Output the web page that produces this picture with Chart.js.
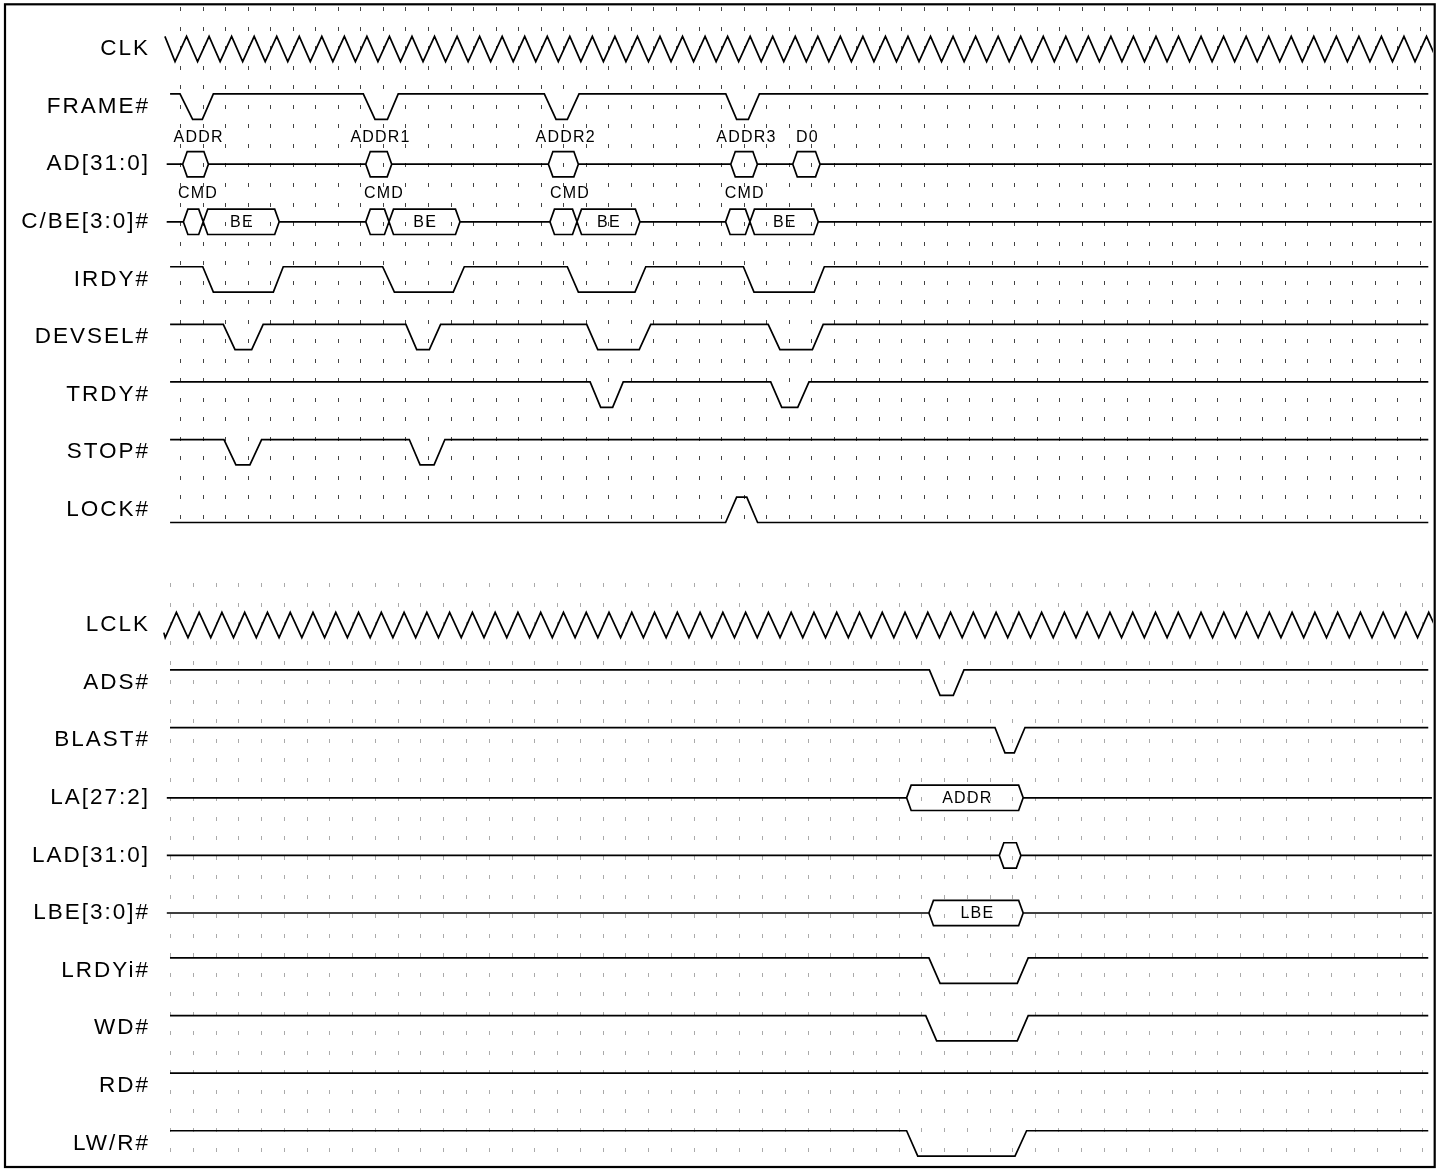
<!DOCTYPE html>
<html><head><meta charset="utf-8">
<script src="https://cdn.jsdelivr.net/npm/chart.js@4/dist/chart.umd.min.js"></script>
<style>html,body{margin:0;padding:0;background:#fff}#wrap{position:relative;width:1445px;height:1170px}</style>
</head><body><div id="wrap"><canvas id="c" width="1445" height="1170"></canvas></div>
<script>
// ---- signal names (y-axis rows) ----
const SIGNAL_NAMES = ['CLK','FRAME#','AD[31:0]','C/BE[3:0]#','IRDY#','DEVSEL#','TRDY#','STOP#','LOCK#','',
  'LCLK','ADS#','BLAST#','LA[27:2]','LAD[31:0]','LBE[3:0]#','LRDYi#','WD#','RD#','LW/R#'];

// ---- PCI side (time in PCI clock cycles) ----
const CLK_START = [-0.67, 1];
const CLK_TROUGHS = [-0.22,0.78,1.78,2.78,3.78,4.78,5.78,6.78,7.78,8.78,9.78,10.78,11.78,12.78,13.78,14.78,15.78,16.78,17.78,18.78,19.78,20.78,21.78,22.78,23.78,24.78,25.78,26.78,27.78,28.78,29.78,30.78,31.78,32.78,33.78,34.78,35.78,36.78,37.78,38.78,39.78,40.78,41.78,42.78,43.78,44.78,45.78,46.78,47.78,48.78,49.78,50.78,51.78,52.78,53.78,54.78,55.78];
const CLK_PEAKS = [0.29,1.29,2.29,3.29,4.29,5.29,6.29,7.29,8.29,9.29,10.29,11.29,12.29,13.29,14.29,15.29,16.29,17.29,18.29,19.29,20.29,21.29,22.29,23.29,24.29,25.29,26.29,27.29,28.29,29.29,30.29,31.29,32.29,33.29,34.29,35.29,36.29,37.29,38.29,39.29,40.29,41.29,42.29,43.29,44.29,45.29,46.29,47.29,48.29,49.29,50.29,51.29,52.29,53.29,54.29,55.29];

const FRAME = [[-0.44,1],[0,1],[0.56,0],[0.99,0],[1.48,1],[8.13,1],[8.65,0],[9.20,0],[9.68,1],[16.16,1],[16.68,0],[17.18,0],[17.70,1],[24.21,1],[24.69,0],[25.21,0],[25.70,1],[55.37,1]];
const IRDY = [[-0.44,1],[1.01,1],[1.48,0],[4.14,0],[4.58,1],[8.99,1],[9.51,0],[12.12,0],[12.61,1],[17.18,1],[17.67,0],[20.18,0],[20.66,1],[24.99,1],[25.46,0],[28.13,0],[28.58,1],[55.37,1]];
const DEVSEL = [[-0.44,1],[1.92,1],[2.44,0],[3.18,0],[3.69,1],[10.02,1],[10.50,0],[11.06,0],[11.56,1],[18.04,1],[18.53,0],[20.37,0],[20.88,1],[26.09,1],[26.61,0],[28.05,0],[28.53,1],[55.37,1]];
const TRDY = [[-0.44,1],[18.19,1],[18.66,0],[19.19,0],[19.66,1],[26.20,1],[26.69,0],[27.40,0],[27.90,1],[55.37,1]];
const STOP = [[-0.44,1],[1.95,1],[2.48,0],[3.10,0],[3.62,1],[10.17,1],[10.65,0],[11.27,0],[11.75,1],[55.37,1]];
const LOCK = [[-0.44,0],[24.20,0],[24.69,1],[25.14,1],[25.62,0],[55.37,0]];

const PCI_BUS_SPAN = [-0.59, 55.53];
const AD_CELLS = [[0.12,1.26],[8.24,9.39],[16.34,17.67],[24.43,25.61],[27.18,28.39]];
const AD_TAGS = [['ADDR',0.80],['ADDR1',8.87],['ADDR2',17.08],['ADDR3',25.10],['D0',27.80]];
const CBE_CELLS = [[0.15,1.03],[1.03,4.40],[8.24,9.27],[9.27,12.42],[16.41,17.61],[17.61,20.40],[24.20,25.28],[25.28,28.31]];
const CBE_TAGS = [['CMD',0.77],['CMD',9.02],['CMD',17.27],['CMD',25.02]];
const CBE_INNER = [['BE',2.72],['BE',10.85],['BE',19.00],['BE',26.80]];

// ---- local side (time in local clock cycles) ----
const LCLK_TROUGHS = [-0.21,0.79,1.79,2.79,3.79,4.79,5.79,6.79,7.79,8.79,9.79,10.79,11.79,12.79,13.79,14.79,15.79,16.79,17.79,18.79,19.79,20.79,21.79,22.79,23.79,24.79,25.79,26.79,27.79,28.79,29.79,30.79,31.79,32.79,33.79,34.79,35.79,36.79,37.79,38.79,39.79,40.79,41.79,42.79,43.79,44.79,45.79,46.79,47.79,48.79,49.79,50.79,51.79,52.79,53.79,54.79,55.79];
const LCLK_PEAKS = [0.28,1.28,2.28,3.28,4.28,5.28,6.28,7.28,8.28,9.28,10.28,11.28,12.28,13.28,14.28,15.28,16.28,17.28,18.28,19.28,20.28,21.28,22.28,23.28,24.28,25.28,26.28,27.28,28.28,29.28,30.28,31.28,32.28,33.28,34.28,35.28,36.28,37.28,38.28,39.28,40.28,41.28,42.28,43.28,44.28,45.28,46.28,47.28,48.28,49.28,50.28,51.28,52.28,53.28,54.28,55.28];
const LCLK_START = [-0.27, 0.2];

const ADS = [[0,1],[33.35,1],[33.82,0],[34.40,0],[34.87,1],[55.26,1]];
const BLAST = [[0,1],[36.23,1],[36.67,0],[37.08,0],[37.55,1],[55.26,1]];
const LRDYI = [[0,1],[33.33,1],[33.82,0],[37.21,0],[37.69,1],[55.26,1]];
const WD = [[0,1],[33.19,1],[33.67,0],[37.21,0],[37.69,1],[55.26,1]];
const RD = [[0,1],[55.26,1]];
const LWR = [[0,1],[32.35,1],[32.84,0],[37.11,0],[37.62,1],[55.26,1]];

const LOCAL_BUS_SPAN = [-0.14, 55.42];
const LA_CELLS = [[32.35,37.47]];
const LA_INNER = [['ADDR',34.99]];
const LAD_CELLS = [[36.42,37.37]];
const LBE_CELLS = [[33.33,37.47]];
const LBE_INNER = [['LBE',35.43]];

// ---- build helpers ----
const AMP = 0.22, SLOPE = 0.2;
const row = n => SIGNAL_NAMES.indexOf(n);
function wave(points, r){ return points.map(([t,l]) => ({x:t, y: r + AMP - 2*AMP*l})); }
function clock(start, troughs, peaks, r){
  const pts = [start];
  for (let i = 0; i < troughs.length; i++){ pts.push([troughs[i],0]); if (i < peaks.length) pts.push([peaks[i],1]); }
  return wave(pts, r);
}
function bus(span, cells, r){
  const p = [{x:span[0], y:r}];
  cells.forEach(([s,e]) => {
    p.push({x:s,y:r},{x:s+SLOPE,y:r-AMP},{x:e-SLOPE,y:r-AMP},{x:e,y:r},{x:e-SLOPE,y:r+AMP},{x:s+SLOPE,y:r+AMP},{x:s,y:r},{x:s,y:null},{x:e,y:r});
  });
  p.push({x:span[1], y:r});
  return p;
}
function ds(data, axis){ return {data, xAxisID: axis, showLine:true, borderColor:'#000', borderWidth:1.7, pointRadius:0, pointHoverRadius:0, fill:false, tension:0, spanGaps:false}; }

const datasets = [
  ds(clock(CLK_START, CLK_TROUGHS, CLK_PEAKS, row('CLK')), 'x'),
  ds(wave(FRAME, row('FRAME#')), 'x'),
  ds(bus(PCI_BUS_SPAN, AD_CELLS, row('AD[31:0]')), 'x'),
  ds(bus(PCI_BUS_SPAN, CBE_CELLS, row('C/BE[3:0]#')), 'x'),
  ds(wave(IRDY, row('IRDY#')), 'x'),
  ds(wave(DEVSEL, row('DEVSEL#')), 'x'),
  ds(wave(TRDY, row('TRDY#')), 'x'),
  ds(wave(STOP, row('STOP#')), 'x'),
  ds(wave(LOCK, row('LOCK#')), 'x'),
  ds(clock(LCLK_START, LCLK_TROUGHS, LCLK_PEAKS, row('LCLK')), 'x2'),
  ds(wave(ADS, row('ADS#')), 'x2'),
  ds(wave(BLAST, row('BLAST#')), 'x2'),
  ds(bus(LOCAL_BUS_SPAN, LA_CELLS, row('LA[27:2]')), 'x2'),
  ds(bus(LOCAL_BUS_SPAN, LAD_CELLS, row('LAD[31:0]')), 'x2'),
  ds(bus(LOCAL_BUS_SPAN, LBE_CELLS, row('LBE[3:0]#')), 'x2'),
  ds(wave(LRDYI, row('LRDYi#')), 'x2'),
  ds(wave(WD, row('WD#')), 'x2'),
  ds(wave(RD, row('RD#')), 'x2'),
  ds(wave(LWR, row('LW/R#')), 'x2')
];

const TAG_SETS = [
  {tags: AD_TAGS, row: row('AD[31:0]'), dy: -0.47, axis: 'x'},
  {tags: CBE_TAGS, row: row('C/BE[3:0]#'), dy: -0.49, axis: 'x'},
  {tags: CBE_INNER, row: row('C/BE[3:0]#'), dy: 0.01, axis: 'x'},
  {tags: LA_INNER, row: row('LA[27:2]'), dy: 0.01, axis: 'x2'},
  {tags: LBE_INNER, row: row('LBE[3:0]#'), dy: 0.01, axis: 'x2'}
];

const FONT = "'Liberation Sans', Arial, sans-serif";

const diagramPlugin = {
  id: 'diagram',
  beforeDraw(chart){ chart.ctx.letterSpacing = '2px'; },
  beforeDatasetsDraw(chart){
    const ctx = chart.ctx; ctx.letterSpacing = '0px';
    const ys = chart.scales.y;
    const sections = [
      {xs: chart.scales.x, y0: -0.689, step: 0.3389, n: 27, color: '#444'},
      {xs: chart.scales.x2, y0: 9.306, step: 0.3382, n: 30, color: '#aaa'}
    ];
    ctx.save();
    ctx.lineWidth = 1;
    sections.forEach(sec => {
      ctx.strokeStyle = sec.color;
      ctx.beginPath();
      for (let k = 0; k <= 55; k++){
        const x = Math.round(sec.xs.getPixelForValue(k)) + 0.5;
        for (let j = 0; j < sec.n; j++){
          const y = Math.round(ys.getPixelForValue(sec.y0 + sec.step*j));
          ctx.moveTo(x, y - 2); ctx.lineTo(x, y + 2);
        }
      }
      ctx.stroke();
    });
    ctx.restore();
  },
  afterDatasetsDraw(chart){
    const ctx = chart.ctx, ys = chart.scales.y;
    ctx.save();
    ctx.font = '16px ' + FONT;
    ctx.fillStyle = '#000';
    ctx.textBaseline = 'middle';
    ctx.textAlign = 'center';
    ctx.letterSpacing = '1.2px';
    TAG_SETS.forEach(set => {
      const xs = chart.scales[set.axis];
      set.tags.forEach(([txt, t]) => {
        ctx.fillText(txt, xs.getPixelForValue(t) + 0.6, ys.getPixelForValue(set.row + set.dy));
      });
    });
    ctx.restore();
  },
  afterDraw(chart){
    const ctx = chart.ctx;
    ctx.save();
    ctx.strokeStyle = '#000'; ctx.lineWidth = 2.2;
    ctx.strokeRect(5, 4.3, 1429.7, 1162.7);
    ctx.restore();
  }
};

new Chart(document.getElementById('c'), {
  type: 'scatter',
  data: { datasets },
  options: {
    responsive: false, animation: false, devicePixelRatio: 1,
    events: [],
    layout: { padding: { left: 0, right: 12, top: 5, bottom: 4 } },
    plugins: { legend: { display: false }, tooltip: { enabled: false } },
    scales: {
      x: { type: 'linear', axis: 'x', position: 'bottom', display: false, min: -0.887, max: 55.578 },
      x2: { type: 'linear', axis: 'x', position: 'bottom', display: false, min: -0.439, max: 55.468 },
      y: {
        type: 'linear', reverse: true, min: -0.764, max: 19.392,
        afterBuildTicks: s => { s.ticks = SIGNAL_NAMES.map((_, i) => ({ value: i })); },
        afterFit: s => { s.width = 160; s.paddingTop = 0; s.paddingBottom = 0; },
        grid: { display: false, drawTicks: false },
        border: { display: false },
        ticks: {
          autoSkip: false, color: '#000', padding: 10,
          font: { family: FONT, size: 22.5 },
          callback: v => SIGNAL_NAMES[Math.round(v)]
        }
      }
    }
  },
  plugins: [diagramPlugin]
});
</script></body></html>
